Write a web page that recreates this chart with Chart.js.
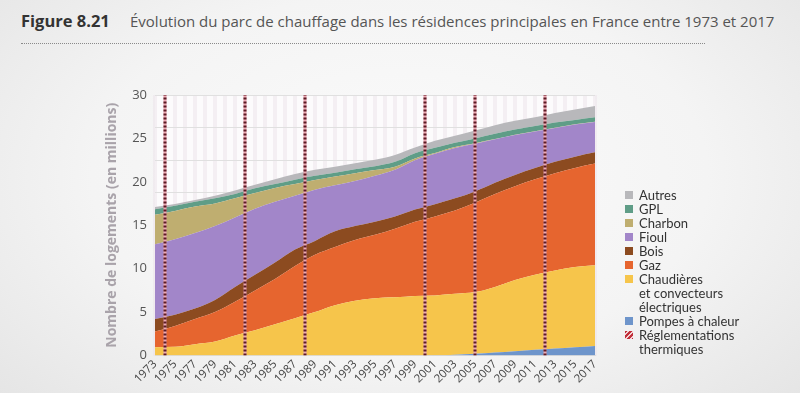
<!DOCTYPE html>
<html><head><meta charset="utf-8">
<script src="https://cdn.jsdelivr.net/npm/chart.js@4"></script>
<style>
html,body{margin:0;padding:0;width:800px;height:393px;overflow:hidden;}
body{background: radial-gradient(ellipse 70% 85% at 50% 45%, #fbfbfb 0%, #f4f4f4 55%, #e4e4e4 100%); font-family:"Open Sans",sans-serif; position:relative;}
#title{position:absolute;left:21px;top:9px;font-size:15px;color:#555;white-space:nowrap;}
#title b{color:#333;font-size:16.5px;display:inline-block;width:109px;}
#rule{position:absolute;left:21px;top:43px;width:684px;border-top:1px dotted #8a8a8a;}
#cv{position:absolute;left:0;top:0;}
#legend{position:absolute;left:624px;top:188px;font-family:Lato,sans-serif;font-size:13px;line-height:14px;color:#333;}
.item{position:relative;padding-left:15px;white-space:nowrap;}
.sw{position:absolute;left:1px;top:3px;width:8px;height:8px;}
</style></head>
<body>
<div id="title"><b>Figure 8.21</b>Évolution du parc de chauffage dans les résidences principales en France entre 1973 et 2017</div>
<div id="rule"></div>
<canvas id="cv" width="800" height="393"></canvas>
<div id="legend"></div>
<script>
// ---- data (millions of dwellings) ----
const years = [1973,1975,1977,1979,1981,1983,1985,1987,1989,1991,1993,1995,1997,1999,2001,2003,2005,2007,2009,2011,2013,2015,2017];
const tickYears = [1973,1975,1977,1979,1981,1983,1985,1987,1989,1991,1993,1995,1997,1999,2001,2003,2005,2007,2009,2011,2013,2015,2017];
const pompesAChaleur = [0,0,0,0,0,0,0,0,0,0,0,0,0,0,0.02,0.1,0.2,0.35,0.5,0.65,0.8,0.95,1.1];
const electrique     = [0.95,1.0,1.3,1.6,2.3,2.9,3.6,4.3,5.0,5.8,6.3,6.6,6.7,6.85,6.9,7.0,7.1,7.55,8.2,8.65,9.0,9.25,9.3];
const gaz            = [1.8,2.4,2.9,3.4,3.9,4.6,5.2,6.0,6.6,6.7,7.0,7.3,7.9,8.55,9.1,9.6,10.3,10.7,10.8,11.0,11.2,11.4,11.7];
const bois           = [1.45,1.3,1.2,1.4,1.7,1.8,1.9,1.9,1.6,1.8,1.6,1.5,1.4,1.4,1.4,1.4,1.3,1.3,1.3,1.3,1.3,1.3,1.3];
const fioul          = [8.6,8.7,8.7,8.5,8.0,7.6,7.0,6.2,5.9,5.3,5.2,5.3,5.4,5.7,5.8,5.8,5.5,5.0,4.6,4.2,3.9,3.7,3.5];
const charbon        = [3.4,3.25,3.05,2.6,2.2,1.8,1.6,1.35,1.1,1.0,0.9,0.65,0.35,0.2,0.1,0.1,0.05,0.03,0.03,0.03,0.03,0.03,0.03];
const gpl            = [0.65,0.6,0.55,0.6,0.5,0.55,0.45,0.5,0.5,0.45,0.45,0.45,0.55,0.6,0.6,0.5,0.55,0.6,0.6,0.6,0.6,0.5,0.5];
const autres         = [0.25,0.2,0.2,0.3,0.4,0.4,0.55,0.65,0.7,0.7,0.7,0.75,0.8,0.65,0.8,0.8,0.9,1.0,1.0,1.0,1.1,1.2,1.3];
const reglementations = [1974,1982,1988,2000,2005,2012];
const yTicks = [0,5,10,15,20,25,30];

// ---- styling ----
const FONT = '"Open Sans", sans-serif';
const series = [
  {label:'Pompes à chaleur', data:pompesAChaleur, color:'#6e95cb'},
  {label:'Chaudières et convecteurs électriques', data:electrique, color:'#f6c54b'},
  {label:'Gaz', data:gaz, color:'#e6652f'},
  {label:'Bois', data:bois, color:'#8c4b20'},
  {label:'Fioul', data:fioul, color:'#a286c9'},
  {label:'Charbon', data:charbon, color:'#bfae70'},
  {label:'GPL', data:gpl, color:'#5f9d87'},
  {label:'Autres', data:autres, color:'#b8b8bb'}
];

const datasets = series.map((s,i)=>({
  label:s.label,
  data: years.map((y,k)=>({x:y, y:s.data[k]})),
  backgroundColor:s.color,
  borderColor:s.color,
  borderWidth:0,
  pointRadius:0,
  fill: i===0 ? 'origin' : '-1',
  cubicInterpolationMode:'monotone',
  yAxisID:'y', xAxisID:'x'
}));

reglementations.forEach(yr=>{
  datasets.push({label:'reg-base', data:[{x:yr,y:0},{x:yr,y:30}], borderColor:'#eeaab4', borderWidth:3, pointRadius:0, fill:false, yAxisID:'yr', xAxisID:'x', order:-1});
  datasets.push({label:'reg-hatch', data:[{x:yr,y:0},{x:yr,y:30}], borderColor:'#5b1a24', borderWidth:3, borderDash:[2,2], pointRadius:0, fill:false, yAxisID:'yr', xAxisID:'x', order:-2});
});

const bgPlugin = {id:'plotbg', beforeDraw(chart){
  const {ctx, chartArea:a} = chart;
  ctx.save(); ctx.fillStyle = '#fcfbfc';
  ctx.fillRect(a.left, a.top, a.right-a.left, a.bottom-a.top);
  ctx.restore();
}};

new Chart(document.getElementById('cv'), {
  type:'line',
  data:{datasets},
  plugins:[bgPlugin],
  options:{
    responsive:false, animation:false, devicePixelRatio:1,
    layout:{padding:{left:100, right:205, top:95, bottom:0}},
    plugins:{legend:{display:false}, tooltip:{enabled:false}, title:{display:false}},
    scales:{
      x:{type:'linear', min:1973, max:2017, position:'bottom',
         afterBuildTicks:s=>{ s.ticks = tickYears.map(v=>({value:v})); },
         ticks:{autoSkip:false, maxRotation:45, minRotation:45, padding:2, color:'#444', font:{size:11.5, family:FONT}, callback:v=>String(v)},
         grid:{display:false, drawTicks:false}, border:{display:true, color:'#dcdcdc'},
         afterFit:s=>{ s.height = 37.5; }},
      xs:{type:'linear', min:1973, max:2017, position:'bottom',
         ticks:{display:false, stepSize:1, autoSkip:false},
         grid:{color:'rgba(236,224,233,0.45)', lineWidth:4, drawTicks:false}, border:{display:false},
         afterFit:s=>{ s.height = 0; }},
      y:{stacked:true, min:0, max:30, position:'left',
         afterBuildTicks:s=>{ s.ticks = yTicks.map(v=>({value:v})); },
         ticks:{padding:8, color:'#555', font:{size:13, family:FONT}},
         grid:{display:false, drawTicks:false}, border:{display:false},
         title:{display:true, text:'Nombre de logements (en millions)', color:'#a9a3aa', font:{size:14, weight:'bold', family:FONT}, padding:{top:4,bottom:0}},
         afterFit:s=>{ s.width = 55; }},
      yg:{min:0, max:30, position:'right',
         ticks:{display:false, stepSize:3.75},
         grid:{color:'#e0e0e0', drawTicks:false}, border:{display:false},
         afterFit:s=>{ s.width = 0; }},
      yr:{display:false, min:0, max:30}
    }
  }
});

// ---- HTML legend ----
const legendItems = [
  {text:'Autres', color:'#b8b8bb'},
  {text:'GPL', color:'#5f9d87'},
  {text:'Charbon', color:'#bfae70'},
  {text:'Fioul', color:'#a286c9'},
  {text:'Bois', color:'#8c4b20'},
  {text:'Gaz', color:'#e6652f'},
  {text:'Chaudières<br>et convecteurs<br>électriques', color:'#f6c54b'},
  {text:'Pompes à chaleur', color:'#6e95cb'},
  {text:'Réglementations<br>thermiques', hatch:true}
];
const lg = document.getElementById('legend');
legendItems.forEach(it=>{
  const d = document.createElement('div'); d.className='item';
  const sw = document.createElement('span'); sw.className='sw';
  sw.style.background = it.hatch ? 'repeating-linear-gradient(135deg,#c0303a 0 2px,#f4d0d4 2px 3.5px)' : it.color;
  d.appendChild(sw);
  const t = document.createElement('span'); t.innerHTML = it.text; d.appendChild(t);
  lg.appendChild(d);
});
</script>
</body></html>
